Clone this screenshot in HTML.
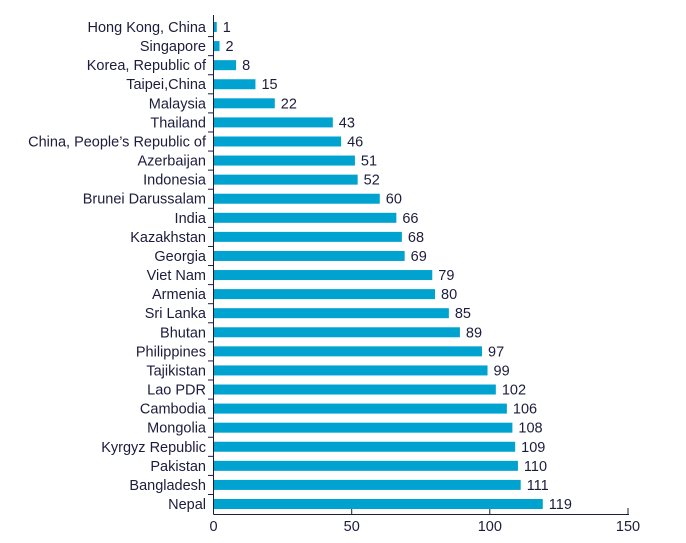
<!DOCTYPE html><html><head><style>body{margin:0;background:#fff}</style></head><body>
<svg width="686" height="538" xmlns="http://www.w3.org/2000/svg" font-family="Liberation Sans, sans-serif" font-size="14.5" fill="#1c1c3c">
<line x1="213.5" y1="15" x2="213.5" y2="514.5" stroke="#1c1c3c" stroke-width="1"/>
<line x1="213.5" y1="514.5" x2="629" y2="514.5" stroke="#1c1c3c" stroke-width="1"/>
<g stroke="#1c1c3c"><line x1="351.7" y1="514" x2="351.7" y2="508"/><line x1="489.8" y1="514" x2="489.8" y2="508"/><line x1="628" y1="514" x2="628" y2="508"/></g>
<g text-anchor="middle"><text x="213.5" y="531">0</text><text x="351.7" y="531">50</text><text x="489.8" y="531">100</text><text x="628" y="531">150</text></g>
<g id="bars"></g>
</svg>
<script>
var d=[["Hong Kong, China",1],["Singapore",2],["Korea, Republic of",8],["Taipei,China",15],["Malaysia",22],["Thailand",43],["China, People’s Republic of",46],["Azerbaijan",51],["Indonesia",52],["Brunei Darussalam",60],["India",66],["Kazakhstan",68],["Georgia",69],["Viet Nam",79],["Armenia",80],["Sri Lanka",85],["Bhutan",89],["Philippines",97],["Tajikistan",99],["Lao PDR",102],["Cambodia",106],["Mongolia",108],["Kyrgyz Republic",109],["Pakistan",110],["Bangladesh",111],["Nepal",119]];
var s="";
d.forEach(function(r,i){var c=27+i*19.08,w=r[1]*2.763;
s+='<rect x="214" y="'+(c-5)+'" width="'+w+'" height="10" fill="#00a3d0"/>';
s+='<text x="206" y="'+(c+5)+'" text-anchor="end">'+r[0]+'</text>';
s+='<text x="'+(214+w+6)+'" y="'+(c+5)+'">'+r[1]+'</text>';
if(i>0)s+='<line x1="208" x2="214" y1="'+(c-9.5)+'" y2="'+(c-9.5)+'" stroke="#1c1c3c"/>';});
document.getElementById("bars").innerHTML=s;
</script>
</body></html>
